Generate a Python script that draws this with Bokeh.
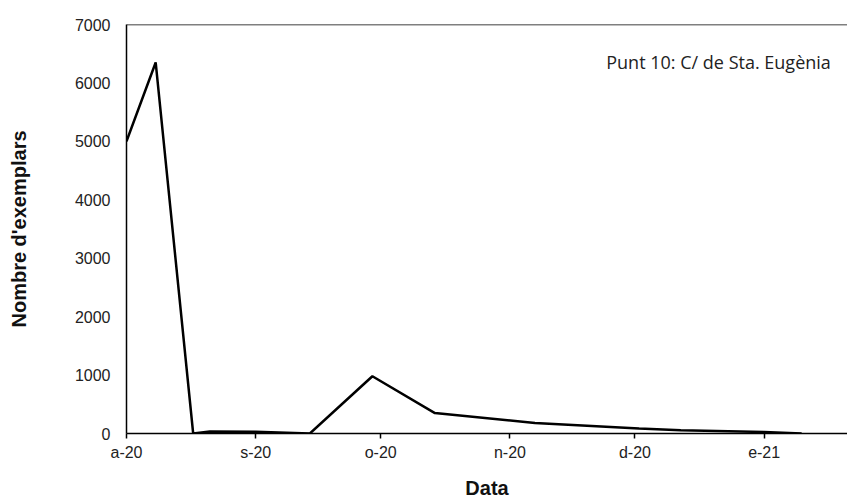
import pandas as pd
from bokeh.plotting import figure
from bokeh.models import FixedTicker, Span, Label, Range1d
from bokeh.embed import file_html
from bokeh.resources import INLINE

# --- data ---
dates = ["2020-08-01", "2020-08-08", "2020-08-17", "2020-08-21", "2020-09-01",
         "2020-09-14", "2020-09-29", "2020-10-14", "2020-11-07", "2020-12-02",
         "2020-12-12", "2021-01-01", "2021-01-10"]
counts = [5000, 6350, 0, 35, 30, 0, 980, 350, 180, 85, 55, 25, 0]

tick_dates = ["2020-08-01", "2020-09-01", "2020-10-01", "2020-11-01", "2020-12-01", "2021-01-01"]
tick_labels = ["a-20", "s-20", "o-20", "n-20", "d-20", "e-21"]
y_ticks = [0, 1000, 2000, 3000, 4000, 5000, 6000, 7000]
title_text = "Punt 10: C/ de Sta. Eugènia"

x = pd.to_datetime(dates)
x_start = pd.Timestamp("2020-08-01")
x_end = pd.Timestamp("2021-01-21")

p = figure(width=847, height=502, x_axis_type="datetime",
           output_backend="svg", toolbar_location=None,
           x_range=Range1d(x_start, x_end), y_range=Range1d(0, 7000),
           min_border_left=126, min_border_right=0, min_border_top=24,
           min_border_bottom=69)
p.outline_line_color = None
p.xgrid.visible = False
p.ygrid.visible = False
p.background_fill_color = "white"
p.border_fill_color = "white"

p.line(x, counts, line_color="black", line_width=2.5)

# top border of frame
p.add_layout(Span(location=7000, dimension="width", line_color="black", line_width=1.5))

tick_ms = [pd.Timestamp(d).value / 1e6 for d in tick_dates]
xa = p.xaxis[0]
xa.ticker = FixedTicker(ticks=tick_ms)
xa.major_label_overrides = {t: l for t, l in zip(tick_ms, tick_labels)}
xa.minor_tick_line_color = None
xa.major_tick_in = 0
xa.major_tick_out = 5
xa.major_tick_line_color = "black"
xa.major_tick_line_width = 1.5
xa.axis_line_color = "black"
xa.axis_line_width = 1.5
xa.major_label_standoff = 5
xa.major_label_text_font = "Liberation Sans"
xa.major_label_text_font_size = "16px"
xa.major_label_text_color = "#222222"
xa.axis_label = "Data"
xa.axis_label_text_font = "Liberation Sans"
xa.axis_label_text_font_style = "bold"
xa.axis_label_text_font_size = "20px"
xa.axis_label_text_color = "#111111"
xa.axis_label_standoff = 13

ya = p.yaxis[0]
ya.ticker = FixedTicker(ticks=y_ticks)
ya.minor_tick_line_color = None
ya.major_tick_in = 0
ya.major_tick_out = 0
ya.axis_line_color = "black"
ya.axis_line_width = 1.5
ya.major_label_standoff = 16
ya.major_label_text_font = "Liberation Sans"
ya.major_label_text_font_size = "16px"
ya.major_label_text_color = "#222222"
ya.axis_label = "Nombre d'exemplars"
ya.axis_label_text_font = "Liberation Sans"
ya.axis_label_text_font_style = "bold"
ya.axis_label_text_font_size = "20px"
ya.axis_label_text_color = "#111111"
ya.axis_label_standoff = 42

p.add_layout(Label(x=pd.Timestamp("2021-01-17"), y=6350, text=title_text,
                   text_align="right", text_baseline="middle",
                   text_font="Open Sans", text_font_size="18px",
                   text_color="#222222"))

open("out.html", "w").write(file_html(p, INLINE))
